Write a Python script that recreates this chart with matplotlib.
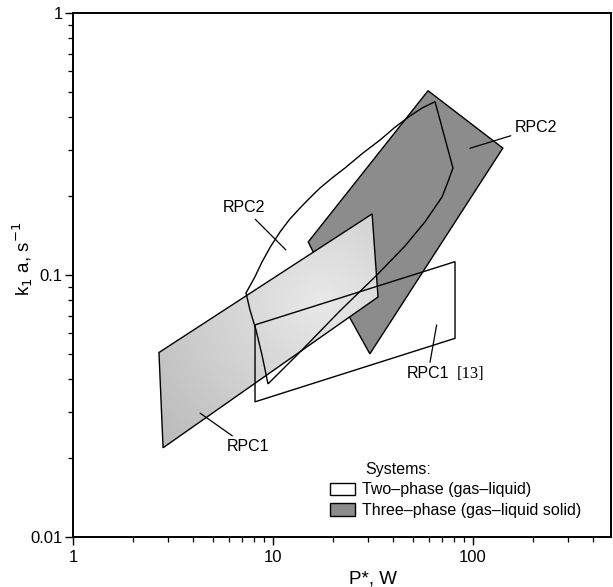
import numpy as np
import matplotlib.pyplot as plt
from matplotlib.patches import Polygon, Patch
from matplotlib.ticker import FuncFormatter, LogLocator

plt.rcParams['font.family'] = ['Liberation Sans', 'DejaVu Sans']

# three-phase regions (gas-liquid solid)
rpc2_3ph_x = [59.6, 141, 30.5, 15.7, 15.0]
rpc2_3ph_y = [0.505, 0.305, 0.050, 0.1246, 0.1337]
rpc1_3ph_x = [2.69, 2.82, 33.5, 31.3]
rpc1_3ph_y = [0.0506, 0.0219, 0.0824, 0.171]

# two-phase regions (gas-liquid)
rpc1_2ph_x = [8.13, 8.13, 81.3, 81.3]
rpc1_2ph_y = [0.0645, 0.0328, 0.0573, 0.1124]
rpc2_2ph_x = [7.33, 8.1, 8.81, 9.7, 10.84, 12.1, 13.65, 15.3, 17.18, 19.8, 22.9, 28.0, 34.3,
              40.5, 48.4, 56.0, 64.6, 79.4, 75.0, 70.0, 63.5, 57.5, 45.7, 33.1, 21.6,
              13.65, 9.44, 8.81, 8.22, 7.67]
rpc2_2ph_y = [0.0854, 0.098, 0.1121, 0.128, 0.1459, 0.163, 0.1802, 0.197, 0.2148, 0.235,
              0.256, 0.291, 0.3275, 0.365, 0.4045, 0.435, 0.4585, 0.256, 0.227, 0.1985,
              0.178, 0.1594, 0.129, 0.1, 0.0729, 0.0508, 0.0384, 0.0495, 0.0617, 0.0735]

dark = '#8c8c8c'

fig = plt.figure(figsize=(6.13, 5.87), dpi=100)
ax = fig.add_axes([0.1191, 0.0852, 0.8777, 0.8927])
ax.set_xscale('log')
ax.set_yscale('log')

# dark three-phase region
ax.add_patch(Polygon(np.column_stack([rpc2_3ph_x, rpc2_3ph_y]), closed=True,
                     facecolor=dark, edgecolor='black', lw=1.0, zorder=1))

# light three-phase region with a soft shading
light = Polygon(np.column_stack([rpc1_3ph_x, rpc1_3ph_y]), closed=True,
                facecolor='none', edgecolor='black', lw=1.0, zorder=3)
ax.add_patch(light)
gx, gy = np.meshgrid(np.linspace(0, 1, 300), np.linspace(0, 1, 300))
d = np.hypot(gx - 0.46, gy - 0.45)
shade = np.clip(0.91 - 0.45 * d, 0, 1)
img = ax.imshow(shade, cmap='gray', vmin=0, vmax=1, extent=[0, 1, 0, 1],
                origin='lower', transform=ax.transAxes, aspect='auto',
                interpolation='bilinear', zorder=2)
img.set_clip_path(light)

# two-phase outlines
ax.add_patch(Polygon(np.column_stack([rpc1_2ph_x, rpc1_2ph_y]), closed=True,
                     facecolor='none', edgecolor='black', lw=1.0, zorder=4))
ax.add_patch(Polygon(np.column_stack([rpc2_2ph_x, rpc2_2ph_y]), closed=True,
                     facecolor='none', edgecolor='black', lw=1.0, zorder=4))

ax.set_xlim(1, 490)
ax.set_ylim(0.01, 1)

fmt = FuncFormatter(lambda v, _: f'{v:g}')
ax.xaxis.set_major_formatter(fmt)
ax.yaxis.set_major_formatter(fmt)
ax.xaxis.set_minor_formatter(FuncFormatter(lambda v, _: ''))
ax.yaxis.set_minor_formatter(FuncFormatter(lambda v, _: ''))
ax.xaxis.set_minor_locator(LogLocator(subs=np.arange(2, 10)))
ax.yaxis.set_minor_locator(LogLocator(subs=np.arange(2, 10)))
ax.tick_params(which='major', length=6, width=1, labelsize=12)
ax.tick_params(which='minor', length=3.5, width=0.9)
ax.tick_params(axis='y', pad=1.5)
for s in ax.spines.values():
    s.set_linewidth(1.4)

ax.set_xlabel('P*, W', fontsize=13.5)
ax.xaxis.set_label_coords(0.558, -0.064)
ax.set_ylabel(r'k$_1$ a, s$^{-1}$', fontsize=13.5)
ax.yaxis.set_label_coords(-0.07, 0.53)

lead = dict(arrowstyle='-', lw=0.9, color='black', shrinkA=1, shrinkB=0)
ax.annotate('RPC2', xy=(96.6, 0.3045), xytext=(162, 0.364), ha='left', va='center',
            fontsize=11.5, arrowprops=lead, zorder=6)
ax.annotate('RPC2', xy=(11.6, 0.1246), xytext=(7.16, 0.1802), ha='center', va='center',
            fontsize=11.5, arrowprops=lead, zorder=6)
ax.annotate('RPC1', xy=(4.32, 0.0297), xytext=(7.5, 0.02206), ha='center', va='center',
            fontsize=11.5, arrowprops=lead, zorder=6)
ax.annotate('RPC1', xy=(65.8, 0.0645), xytext=(46.6, 0.0419), ha='left', va='center',
            fontsize=11.5, arrowprops=lead, zorder=6)
ax.text(83.2, 0.0419, '[13]', ha='left', va='center', fontsize=12,
        family=['Liberation Serif', 'DejaVu Serif'])

ax.text(0.543, 0.128, 'Systems:', transform=ax.transAxes, ha='left', va='center',
        fontsize=11.5)
handles = [Patch(facecolor='white', edgecolor='black', lw=1.0,
                 label='Two\u2013phase (gas\u2013liquid)'),
           Patch(facecolor=dark, edgecolor='black', lw=1.0,
                 label='Three\u2013phase (gas\u2013liquid solid)')]
ax.legend(handles=handles, loc='upper left', bbox_to_anchor=(0.4777, 0.104),
          frameon=False, fontsize=11.5, handlelength=1.56, handleheight=0.8,
          handletextpad=0.45, borderpad=0, borderaxespad=0, labelspacing=0.35)

fig.savefig('out.png', dpi=100)
